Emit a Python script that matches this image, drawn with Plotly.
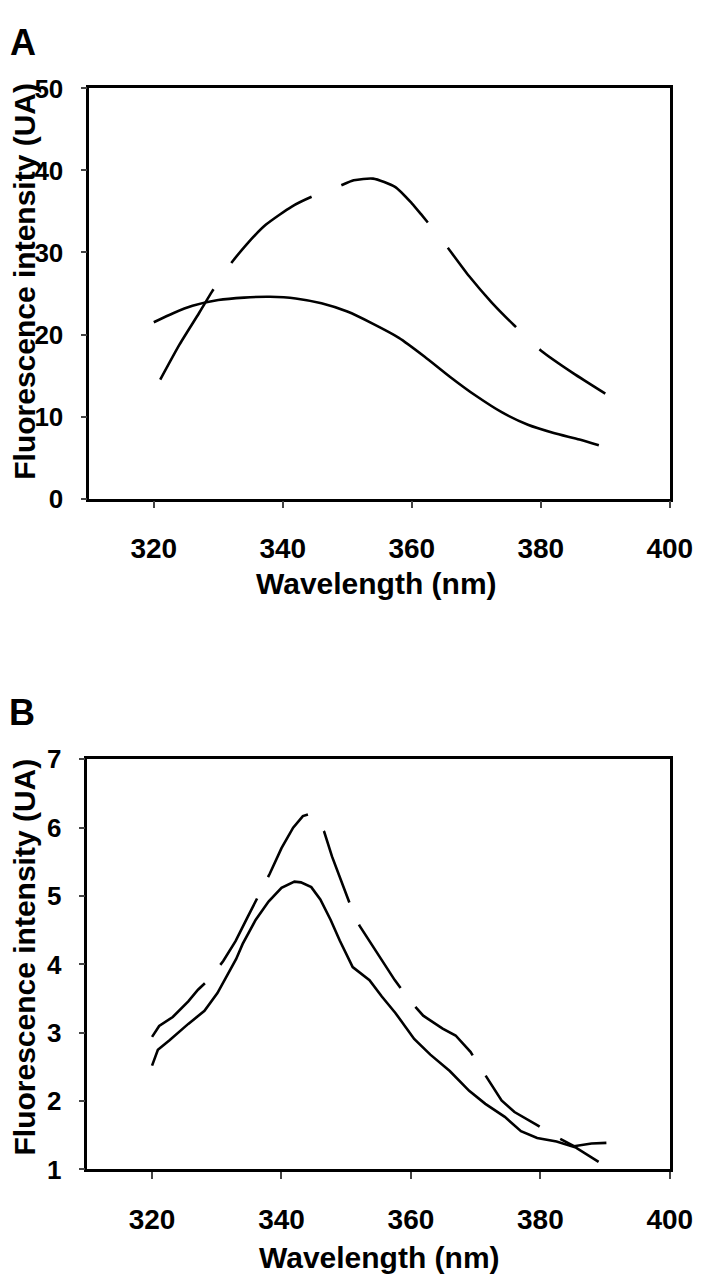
import plotly.graph_objects as go

# ---------------- data ----------------
# Panel A
a_solid_x = [320, 323, 326, 330, 334, 338, 342, 346, 350, 354, 358, 362, 366, 370, 374, 378, 382, 386, 389]
a_solid_y = [21.5, 22.6, 23.5, 24.2, 24.5, 24.6, 24.4, 23.8, 22.8, 21.3, 19.6, 17.3, 14.8, 12.5, 10.5, 9.0, 8.0, 7.2, 6.5]

a_dash_x = [321, 324, 327, 329, 331.6, 334.4, 337.4, 341.4, 344.5, 348.5, 351, 354, 357.4, 360, 361.4,
            364.7, 368.9, 372.4, 375.9, 380.1, 385, 390]
a_dash_y = [14.5, 18.8, 22.6, 25.2, 28.3, 31.0, 33.4, 35.6, 36.8, 38.0, 38.8, 39.0, 38.0, 36.0, 34.7,
            31.5, 27.1, 23.9, 21.1, 18.0, 15.3, 12.8]

# Panel B
b_solid_x = [320, 320.9, 322.7, 325.6, 328.1, 330.1, 333, 334, 336, 338, 340, 342, 343, 344.6, 346, 347.6,
             349, 351, 353.6, 355.5, 357.6, 360.5, 363, 366, 369, 371.5, 374.5, 377, 379.5, 382.5, 385.5, 389]
b_solid_y = [2.52, 2.75, 2.89, 3.13, 3.32, 3.58, 4.08, 4.3, 4.65, 4.92, 5.12, 5.21, 5.2, 5.13, 4.95, 4.65,
             4.35, 3.96, 3.77, 3.53, 3.29, 2.91, 2.68, 2.44, 2.15, 1.96, 1.77, 1.56, 1.46, 1.41, 1.32, 1.11]

b_dash_x = [320, 321.1, 323.2, 325.6, 327.1, 329, 331, 332.9, 334.8, 336.6, 338.2, 340, 341.8, 343.3, 344.3,
            345.5, 346.6, 347.8, 350, 351.3, 352.1, 354.5, 357.5, 359.9, 361.9, 364.9, 366.9, 369.2, 371.3,
            374, 376, 379.5, 382, 385.2, 387.9, 390.2]
b_dash_y = [2.94, 3.10, 3.23, 3.46, 3.63, 3.80, 4.05, 4.34, 4.70, 5.03, 5.33, 5.70, 6.00, 6.17, 6.20,
            6.10, 5.94, 5.58, 5.01, 4.70, 4.56, 4.20, 3.77, 3.46, 3.25, 3.06, 2.96, 2.72, 2.41,
            2.01, 1.84, 1.65, 1.50, 1.34, 1.38, 1.39]

x_ticks = [320, 340, 360, 380, 400]
a_y_ticks = [0, 10, 20, 30, 40, 50]
b_y_ticks = [1, 2, 3, 4, 5, 6, 7]

x_title = "Wavelength (nm)"
y_title = "Fluorescence intensity (UA)"

# ---------------- figure ----------------
W, H = 709, 1280
FONT = "Liberation Sans, Arial, sans-serif"

fig = go.Figure()
fig.add_trace(go.Scatter(x=a_solid_x, y=a_solid_y, mode="lines", xaxis="x", yaxis="y",
                         line=dict(color="black", width=2.6, shape="spline", smoothing=0.6)))
fig.add_trace(go.Scatter(x=a_dash_x, y=a_dash_y, mode="lines", xaxis="x", yaxis="y",
                         line=dict(color="black", width=2.6, shape="spline", smoothing=0.6,
                                   dash="105px,32px")))
fig.add_trace(go.Scatter(x=b_solid_x, y=b_solid_y, mode="lines", xaxis="x2", yaxis="y2",
                         line=dict(color="black", width=2.6)))
fig.add_trace(go.Scatter(x=b_dash_x, y=b_dash_y, mode="lines", xaxis="x2", yaxis="y2",
                         line=dict(color="black", width=2.6, dash="76px,24px")))


def px_x(p):
    return p / W


def px_y(p):
    return 1 - p / H


tickfont_x = dict(family=FONT, size=28, color="black", weight="bold")
tickfont_y = dict(family=FONT, size=26, color="black", weight="bold")

common_x = dict(range=[310, 400], tickvals=x_ticks, ticks="outside", ticklen=7, tickwidth=1.5,
                tickcolor="#444", showline=True, linewidth=2.5, linecolor="black", mirror=True,
                showgrid=False, zeroline=False, tickfont=tickfont_x, ticklabelstandoff=16)
common_y = dict(ticks="outside", ticklen=6, tickwidth=1.5, tickcolor="#444", showline=True,
                linewidth=2.5, linecolor="black", mirror=True, showgrid=False, zeroline=False,
                tickfont=tickfont_y, ticklabelstandoff=12)

fig.update_layout(
    width=W, height=H,
    margin=dict(l=0, r=0, t=0, b=0),
    paper_bgcolor="white", plot_bgcolor="white",
    showlegend=False,
    xaxis=dict(domain=[px_x(84), px_x(684)], anchor="y", **common_x),
    yaxis=dict(domain=[px_y(487), px_y(67)], anchor="x", range=[0, 50], tickvals=a_y_ticks, **common_y),
    xaxis2=dict(domain=[px_x(82), px_x(684)], anchor="y2", **common_x),
    yaxis2=dict(domain=[px_y(1174), px_y(754)], anchor="x2", range=[1, 7], tickvals=b_y_ticks, **common_y),
)

title_font = dict(family=FONT, size=30, color="black", weight="bold")
letter_font = dict(family=FONT, size=36, color="black", weight="bold")

annotations = [
    dict(text="A", x=px_x(15), y=px_y(20), xref="paper", yref="paper", showarrow=False,
         xanchor="center", yanchor="middle", font=letter_font),
    dict(text="B", x=px_x(14), y=px_y(706), xref="paper", yref="paper", showarrow=False,
         xanchor="center", yanchor="middle", font=letter_font),
    dict(text=x_title, x=px_x(381), y=px_y(574), xref="paper", yref="paper", showarrow=False,
         xanchor="center", yanchor="middle", font=title_font),
    dict(text=x_title, x=px_x(384), y=px_y(1264), xref="paper", yref="paper", showarrow=False,
         xanchor="center", yanchor="middle", font=title_font),
    dict(text=y_title, x=px_x(17.5), y=px_y(264), xref="paper", yref="paper", showarrow=False,
         textangle=-90, xanchor="center", yanchor="middle", font=title_font),
    dict(text=y_title, x=px_x(17.5), y=px_y(956), xref="paper", yref="paper", showarrow=False,
         textangle=-90, xanchor="center", yanchor="middle", font=title_font),
]
fig.update_layout(annotations=annotations)

fig.write_html("out.html")
